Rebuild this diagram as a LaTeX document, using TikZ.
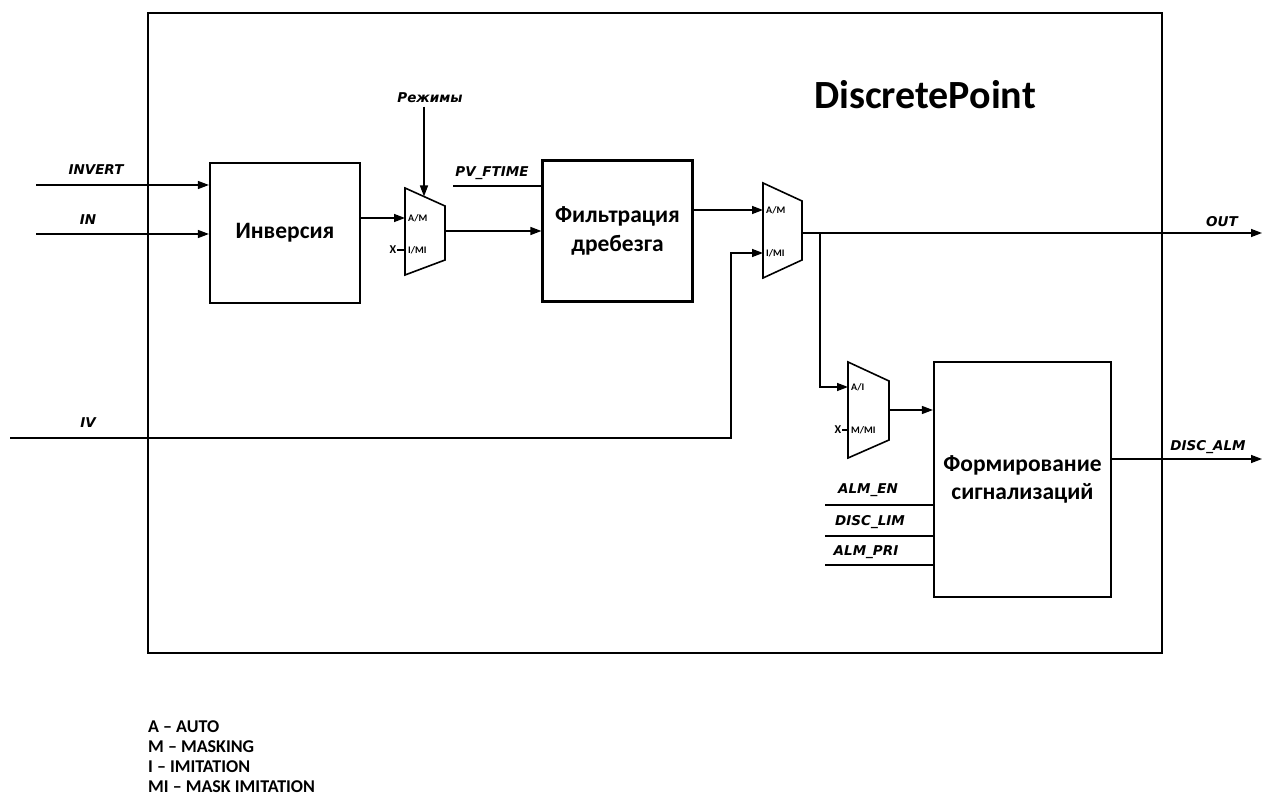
\documentclass[tikz,border=0pt]{standalone}
\usepackage{fontspec}
\setmainfont{Carlito}
\newfontfamily\sig{DejaVu Sans}
\usetikzlibrary{arrows.meta}
\begin{document}
\begin{tikzpicture}[x=1pt,y=-1pt,
 blk/.style={draw,line width=2.2pt,align=center,font=\fontsize{23.5}{28.5}\selectfont\bfseries},
 wire/.style={line width=1.4pt},
 arr/.style={wire,-{Triangle[length=11pt,width=8pt]}},
 sl/.style={font=\sig\fontsize{13.5}{15}\selectfont\bfseries\itshape},
 mx/.style={font=\fontsize{10}{11}\selectfont\bfseries, inner sep=1pt, anchor=west},
 xm/.style={font=\fontsize{12}{13}\selectfont\bfseries, inner sep=0.5pt},
 muxs/.style={line width=1.6pt}]
\useasboundingbox (0,0) rectangle (1272,810);
% frame
\node[draw,line width=2pt,minimum width=1014pt,minimum height=640pt,inner sep=0] (frame) at (655,333) {};
\node[font=\fontsize{40}{44}\selectfont\bfseries] (title) at (925,95) {DiscretePoint};
% blocks
\node[blk,minimum width=150pt,minimum height=140pt] (inv) at (285,233) {Инверсия};
\node[blk,minimum width=150pt,minimum height=141pt] (filt) at (617.5,231) {Фильтрация\\дребезга};
\node[blk,minimum width=177pt,minimum height=235pt] (alm) at (1022.5,479.5) {Формирование\\сигнализаций};
% mux 1
\draw[muxs] (405,188) -- (445,206) -- (445,260) -- (405,275) -- cycle;
\coordinate (m1a) at (405,218);
\coordinate (m1b) at (405,250);
\coordinate (m1o) at (445,231);
\coordinate (m1t) at (424,196.5);
\node[mx] at (407,218) {A/M};
\node[mx] at (407,250) {I/MI};
\node[xm] (x1) at (393,250) {X};
\draw[wire] (x1.east) -- (m1b);
% mux 2
\draw[muxs] (763,183) -- (802,201) -- (802,260) -- (763,278) -- cycle;
\coordinate (m2a) at (763,210);
\coordinate (m2b) at (763,253);
\coordinate (m2o) at (802,233);
\node[mx] at (765,210) {A/M};
\node[mx] at (765,253) {I/MI};
% mux 3
\draw[muxs] (848,362) -- (889,381) -- (889,440) -- (848,458) -- cycle;
\coordinate (m3a) at (848,387);
\coordinate (m3b) at (848,430);
\coordinate (m3o) at (889,410);
\node[mx] at (850,387) {A/I};
\node[mx] at (850,430) {M/MI};
\node[xm] (x3) at (838,430) {X};
\draw[wire] (x3.east) -- (m3b);
% Режимы
\node[sl] (rez) at (430,98) {Режимы};
\draw[arr] (rez.south -| m1t) -- (m1t);
% inputs
\coordinate (invs) at (36,185);
\coordinate (ins) at (36,234);
\draw[arr] (invs) -- (inv.west |- invs);
\draw[arr] (ins) -- (inv.west |- ins);
\node[sl] at (96,170) {INVERT};
\node[sl] at (88,220) {IN};
\draw[arr] (inv.east |- m1a) -- (m1a);
\draw[arr] (m1o) -- (filt.west |- m1o);
\coordinate (pvs) at (453,186);
\draw[wire] (pvs) -- (filt.west |- pvs);
\node[sl] at (492,173) {PV\_FTIME};
\draw[arr] (filt.east |- m2a) -- (m2a);
% IV
\coordinate (ivs) at (10,438);
\coordinate (ivk) at (731,438);
\draw[arr] (ivs) -- (ivk) |- (m2b);
\node[sl] at (88,423) {IV};
% OUT
\coordinate (outs) at (1262,233);
\draw[arr] (m2o) -- (outs);
\node[sl] at (1222,222) {OUT};
\coordinate (br) at (820,233);
\draw[arr] (br) |- (m3a);
\draw[arr] (m3o) -- (alm.west |- m3o);
% alarm
\coordinate (dao) at (1262,459);
\draw[arr] (alm.east |- dao) -- (dao);
\node[sl] at (1208,447) {DISC\_ALM};
\coordinate (aen) at (825,505);
\coordinate (dli) at (825,536);
\coordinate (apr) at (825,565);
\draw[wire] (aen) -- (alm.west |- aen);
\draw[wire] (dli) -- (alm.west |- dli);
\draw[wire] (apr) -- (alm.west |- apr);
\node[sl] at (868,490) {ALM\_EN};
\node[sl] at (870,522) {DISC\_LIM};
\node[sl] at (866,552) {ALM\_PRI};
% legend
\node[anchor=west,align=left,inner sep=0,font=\fontsize{18}{20}\selectfont\bfseries] (leg) at (148,757) {A – AUTO\\M – MASKING\\I – IMITATION\\MI – MASK IMITATION};
\end{tikzpicture}
\end{document}
